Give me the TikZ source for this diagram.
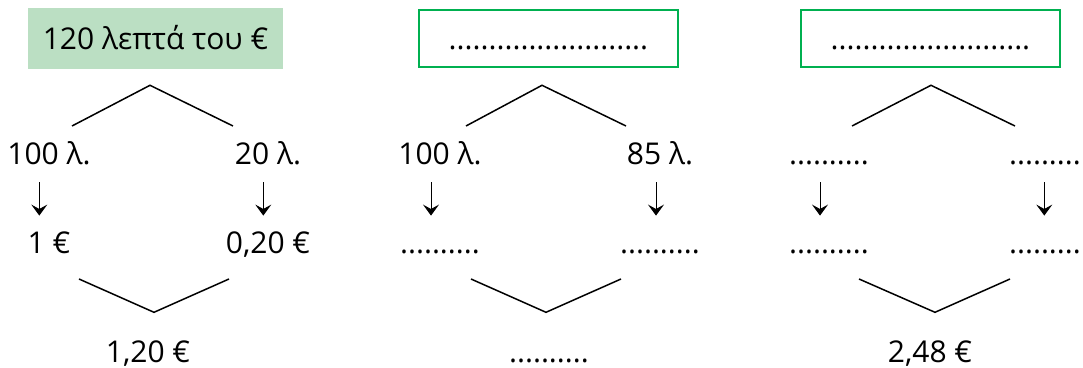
\documentclass[tikz,border=0pt]{standalone}
\usepackage{fontspec}
\setmainfont{Open Sans}
\usetikzlibrary{arrows.meta,positioning}
\definecolor{boxgreen}{HTML}{BBDFC3}
\definecolor{rimgreen}{HTML}{00B050}
\tikzstyle{line} = [draw, line width=0.75pt]
\tikzstyle{down} = [draw, -{Stealth[length=5.5pt, width=8pt, inset=2.2pt]}, line width=0.5pt, shorten <=8.5pt, shorten >=8pt]
\tikzstyle{txt} = [inner sep=0pt, text height=11pt, text depth=0pt, font=\fontsize{15}{18}\selectfont]
\tikzstyle{given} = [txt, rectangle, fill=boxgreen, minimum width=127.5pt, minimum height=30.5pt]
\tikzstyle{blank} = [txt, rectangle, draw=rimgreen, line width=1pt, minimum width=129.5pt, minimum height=28.5pt]

\begin{document}
\begin{tikzpicture}[x=0.5pt, y=-0.5pt]
	\useasboundingbox (0,0) rectangle (1083,368);
	% first column: 120 cents
	\node [given] (box1) at (155.5,38.5) {120 λεπτά του €};
	\node [txt] (left1) at (49,154) {100 λ.};
	\node [txt] (right1) at (268,154) {20 λ.};
	\node [txt, below of=left1, node distance=44.5pt] (lval1) {1 €};
	\node [txt, below of=right1, node distance=44.5pt] (rval1) {0,20 €};
	\node [txt] (sum1) at (148,352) {1,20 €};
	% second column: 185 cents
	\node [blank] (box2) at (548.5,38.5) {.........................};
	\node [txt] (left2) at (440,154) {100 λ.};
	\node [txt] (right2) at (660,154) {85 λ.};
	\node [txt, below of=left2, node distance=44.5pt] (lval2) {..........};
	\node [txt, below of=right2, node distance=44.5pt] (rval2) {..........};
	\node [txt] (sum2) at (549,352) {..........};
	% third column: 2,48 euro
	\node [blank] (box3) at (930.5,38.5) {.........................};
	\node [txt] (left3) at (829,154) {..........};
	\node [txt] (right3) at (1049,154) {..........};
	\node [txt, below of=left3, node distance=44.5pt] (lval3) {..........};
	\node [txt, below of=right3, node distance=44.5pt] (rval3) {..........};
	\node [txt] (sum3) at (930,352) {2,48 €};
	% split and join corners
	\coordinate (topl1) at (72,126);   \coordinate (topc1) at (150,85.3);  \coordinate (topr1) at (233,126);
	\coordinate (botl1) at (79,279);   \coordinate (botc1) at (154,312.3); \coordinate (botr1) at (229,279);
	\coordinate (topl2) at (466,126);  \coordinate (topc2) at (542,85.3);  \coordinate (topr2) at (626,126);
	\coordinate (botl2) at (471,279);  \coordinate (botc2) at (546,312.3); \coordinate (botr2) at (621,279);
	\coordinate (topl3) at (852,126);  \coordinate (topc3) at (931,85.3);  \coordinate (topr3) at (1015,126);
	\coordinate (botl3) at (859,279);  \coordinate (botc3) at (935,312.3); \coordinate (botr3) at (1010,279);
	\path [line] (topl1) -- (topc1) -- (topr1);
	\path [line] (botl1) -- (botc1) -- (botr1);
	\path [line] (topl2) -- (topc2) -- (topr2);
	\path [line] (botl2) -- (botc2) -- (botr2);
	\path [line] (topl3) -- (topc3) -- (topr3);
	\path [line] (botl3) -- (botc3) -- (botr3);
	% conversions
	\path [down] ([xshift=-4.85pt]left1.south) -- ([xshift=-4.85pt]lval1.north);
	\path [down] ([xshift=-2.35pt]right1.south) -- ([xshift=-2.35pt]rval1.north);
	\path [down] ([xshift=-4.5pt]left2.south) -- ([xshift=-4.5pt]lval2.north);
	\path [down] ([xshift=-2pt]right2.south) -- ([xshift=-2pt]rval2.north);
	\path [down] ([xshift=-4.5pt]left3.south) -- ([xshift=-4.5pt]lval3.north);
	\path [down] ([xshift=-2.35pt]right3.south) -- ([xshift=-2.35pt]rval3.north);
\end{tikzpicture}
\end{document}
